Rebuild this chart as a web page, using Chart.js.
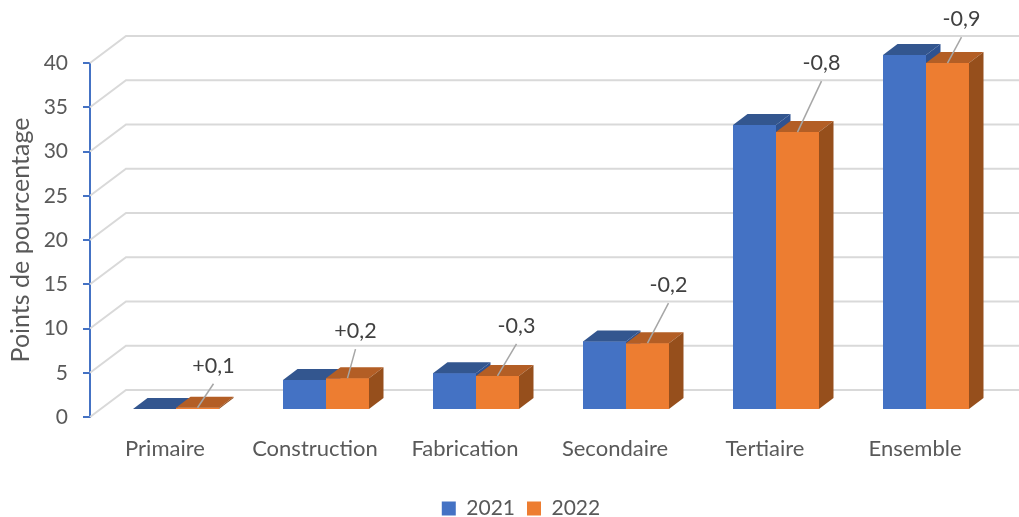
<!DOCTYPE html>
<html><head><meta charset="utf-8">
<style>html,body{margin:0;padding:0;background:#fff}#w{width:1019px;height:517px;position:relative}</style>
<script src="https://cdn.jsdelivr.net/npm/chart.js@4"></script>
</head><body><div id="w"><canvas id="c" width="1019" height="517"></canvas></div>
<script>
const categories = ["Primaire","Construction","Fabrication","Secondaire","Tertiaire","Ensemble"];
const values2021 = [0.1,3.4,4.15,7.75,32.2,40.1];
const values2022 = [0.25,3.6,3.85,7.55,31.4,39.2];
const changeLabels = ["+0,1","+0,2","-0,3","-0,2","-0,8","-0,9"];
const leaderOffsets = [[16,-24],[8,-29],[19,-32],[21,-40],[24,-51],[14,-26]];
const yTicks = [0,5,10,15,20,25,30,35,40];
const FONT = "Lato";
const BACK = {dx:36,dy:-27}, FRONT = {dx:11,dy:-7}, DEPTH = {dx:14.5,dy:-11};
const faces = [{top:"#33568F",side:"#2E5291"},{top:"#B35E25",side:"#964F1C"}];

const depthPlugin = {
  id:"depth",
  afterLayout(chart){
    chart.legend.right += 52;
  },
  beforeDatasetsDraw(chart){
    const {ctx,chartArea:a,scales:{y}} = chart;
    ctx.save();
    ctx.strokeStyle="#D9D9D9"; ctx.lineWidth=2;
    yTicks.forEach(t=>{
      const p=y.getPixelForValue(t);
      ctx.beginPath();
      ctx.moveTo(a.left,p);
      ctx.lineTo(a.left+BACK.dx,p+BACK.dy);
      ctx.lineTo(a.right+BACK.dx,p+BACK.dy);
      ctx.stroke();
    });
    ctx.restore();
  },
  beforeDatasetDraw(chart){
    chart.ctx.save();
    chart.ctx.translate(FRONT.dx,FRONT.dy);
  },
  afterDatasetDraw(chart){
    chart.ctx.restore();
  },
  afterDatasetsDraw(chart){
    const ctx=chart.ctx;
    ctx.save();
    ctx.translate(FRONT.dx,FRONT.dy);
    [0,1].forEach(di=>{
      const f=faces[di];
      chart.getDatasetMeta(di).data.forEach(el=>{
        const x=el.x,y=el.y,w=el.width,b=el.base,l=x-w/2,r=x+w/2;
        el.draw(ctx);
        ctx.fillStyle=f.top;
        ctx.beginPath();ctx.moveTo(l,y);ctx.lineTo(r,y);ctx.lineTo(r+DEPTH.dx,y+DEPTH.dy);ctx.lineTo(l+DEPTH.dx,y+DEPTH.dy);ctx.closePath();ctx.fill();
        ctx.fillStyle=f.side;
        ctx.beginPath();ctx.moveTo(r,y);ctx.lineTo(r+DEPTH.dx,y+DEPTH.dy);ctx.lineTo(r+DEPTH.dx,b+DEPTH.dy);ctx.lineTo(r,b);ctx.closePath();ctx.fill();
      });
    });
    ctx.restore();
    ctx.save();
    ctx.textAlign="center";ctx.textBaseline="middle";
    ctx.font="21.5px "+FONT;
    chart.getDatasetMeta(1).data.forEach((el,i)=>{
      const sx=el.x+FRONT.dx, sy=el.y+FRONT.dy, o=leaderOffsets[i];
      ctx.strokeStyle="#A6A6A6";ctx.lineWidth=1.5;
      ctx.beginPath();ctx.moveTo(sx,sy);ctx.lineTo(sx+o[0],sy+o[1]);ctx.stroke();
      ctx.fillStyle="#404040";
      ctx.fillText(changeLabels[i],sx+o[0],sy+o[1]-18);
    });
    ctx.restore();
  }
};

new Chart(document.getElementById("c"),{
  type:"bar",
  data:{labels:categories,datasets:[
    {label:"2021",data:values2021,backgroundColor:"#4472C4",clip:false},
    {label:"2022",data:values2022,backgroundColor:"#ED7D31",clip:false}
  ]},
  options:{
    responsive:false,animation:false,
    datasets:{bar:{barPercentage:1,categoryPercentage:0.5733}},
    layout:{padding:{top:63,right:29,left:0,bottom:-12}},
    scales:{
      x:{
        grid:{display:false},border:{display:false},
        ticks:{color:"#595959",font:{family:FONT,size:22},padding:11,maxRotation:0},
        afterFit(s){s.height=69;}
      },
      y:{
        min:0,max:40,
        afterFit(s){s.width=90;},
        afterBuildTicks(s){s.ticks=yTicks.map(v=>({value:v}));},
        grid:{drawOnChartArea:false,drawTicks:true,color:"#4472C4",tickLength:7,lineWidth:2},
        border:{display:true,color:"#4472C4",width:2},
        ticks:{color:"#595959",font:{family:FONT,size:21},padding:15},
        title:{display:true,text:"Points de pourcentage",color:"#595959",font:{family:FONT,size:25},padding:{top:6,bottom:0}}
      }
    },
    plugins:{
      tooltip:{enabled:false},
      legend:{position:"bottom",labels:{boxWidth:14,boxHeight:14,color:"#595959",font:{family:FONT,size:21},padding:12}}
    }
  },
  plugins:[depthPlugin]
});
</script></body></html>
